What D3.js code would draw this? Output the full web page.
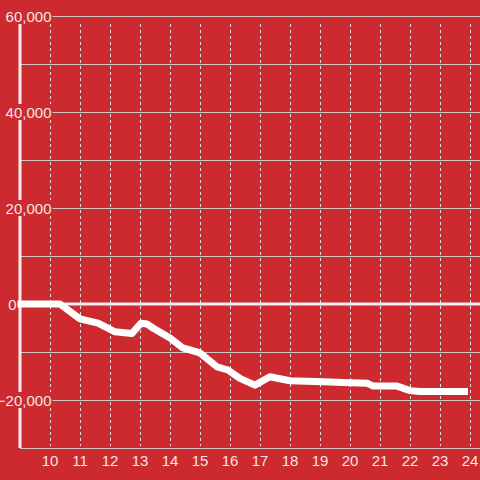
<!DOCTYPE html>
<html><head><meta charset="utf-8">
<script src="https://cdn.jsdelivr.net/npm/d3@7"></script>
<style>html,body{margin:0;padding:0;background:#cc2a2e;}svg{display:block;}</style>
</head><body>
<script>
const hours = [8.9, 10.33, 11, 11.6, 12.17, 12.73, 13.03, 13.23, 13.43, 14, 14.43, 15, 15.57, 15.93, 16.33, 16.83, 17.33, 18, 19.1, 20, 20.57, 20.77, 21.57, 22, 22.33, 23.93];
const values = [0, 0, -3100, -4000, -5800, -6150, -4000, -4150, -5000, -7100, -9150, -10200, -13100, -13750, -15500, -16900, -15150, -16000, -16200, -16400, -16500, -17100, -17100, -18050, -18250, -18250];
const xTicks = [10, 11, 12, 13, 14, 15, 16, 17, 18, 19, 20, 21, 22, 23, 24];
const yGrid = [60000, 50000, 40000, 30000, 20000, 10000, -10000, -20000, -30000];
const yLabels = [60000, 40000, 20000, 0, -20000];

const W = 480, H = 480;
const x = d3.scaleLinear().domain([9, 24 + 1/3]).range([20, 480]);
const y = d3.scaleLinear().domain([-30000, 60000]).range([448, 16]);
const fmt = d3.format(",");
const bg = "#cc2a2e", fg = "#f2e6e6";

const svg = d3.select("body").append("svg").attr("width", W).attr("height", H);
svg.append("rect").attr("width", W).attr("height", H).attr("fill", bg);

// vertical dashed gridlines
svg.append("g").selectAll("line").data(xTicks).join("line")
  .attr("x1", d => Math.round(x(d)) + 0.5).attr("x2", d => Math.round(x(d)) + 0.5)
  .attr("y1", 24).attr("y2", 446)
  .attr("stroke", "#ecdede").attr("stroke-width", 1).attr("stroke-dasharray", "3,3");

// horizontal gridlines
svg.append("g").selectAll("line").data(yGrid).join("line")
  .attr("x1", x(9)).attr("x2", W)
  .attr("y1", d => Math.round(y(d)) + 0.5).attr("y2", d => Math.round(y(d)) + 0.5)
  .attr("stroke", "#d4c4c4").attr("stroke-width", 1);

// y axis line
svg.append("line").attr("x1", x(9)).attr("x2", x(9)).attr("y1", 24).attr("y2", 448)
  .attr("stroke", "#f4eeee").attr("stroke-width", 3);

// zero line
svg.append("line").attr("x1", x(9) - 3).attr("x2", W).attr("y1", y(0)).attr("y2", y(0))
  .attr("stroke", "#f4eeee").attr("stroke-width", 3);

// data line
const line = d3.line().x(d => x(d[0])).y(d => y(d[1]));
svg.append("path").datum(hours.map((h, i) => [h, values[i]]))
  .attr("d", line).attr("fill", "none").attr("stroke", "#ffffff")
  .attr("stroke-width", 7).attr("stroke-linejoin", "round").attr("stroke-linecap", "butt");

// y labels with background boxes
const yl = svg.append("g").selectAll("g").data(yLabels).join("g");
yl.each(function(d) {
  const g = d3.select(this);
  const ax = d === 0 ? 16.5 : 51.5;
  const t = g.append("text").attr("x", ax).attr("y", y(d) + 6)
    .attr("text-anchor", "end").attr("font-family", "Liberation Sans, Arial, sans-serif")
    .attr("font-size", 15).attr("fill", fg).text(fmt(d));
  const b = t.node().getBBox();
  g.insert("rect", "text").attr("x", b.x - 1).attr("y", y(d) - 8).attr("width", b.width + 2).attr("height", 16).attr("fill", bg);
});

// x labels
svg.append("g").selectAll("text").data(xTicks).join("text")
  .attr("x", d => x(d)).attr("y", 466).attr("text-anchor", "middle")
  .attr("font-family", "Liberation Sans, Arial, sans-serif").attr("font-size", 15)
  .attr("fill", fg).text(d => d);
</script>
</body></html>
